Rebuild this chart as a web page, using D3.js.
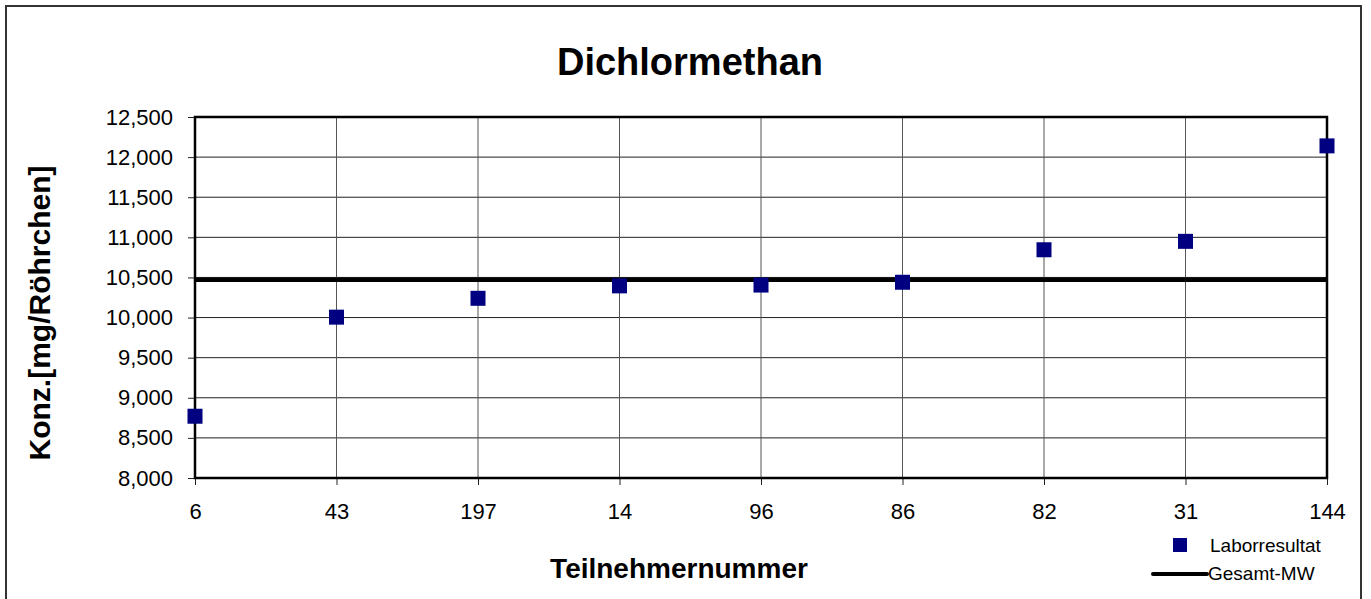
<!DOCTYPE html>
<html>
<head>
<meta charset="utf-8">
<script src="https://cdn.jsdelivr.net/npm/d3@7"></script>
<style>
  body { margin: 0; background: #fff; }
  text { font-family: "Liberation Sans", Arial, sans-serif; }
</style>
</head>
<body>
<svg id="chart" width="1371" height="599"></svg>
<script>
// data
const participants = ["6", "43", "197", "14", "96", "86", "82", "31", "144"];
const labResults = [8770, 10005, 10240, 10395, 10405, 10440, 10845, 10950, 12140];
const overallMean = 10470;
const yTicks = [8000, 8500, 9000, 9500, 10000, 10500, 11000, 11500, 12000, 12500];

const margin = {top: 117, right: 44, bottom: 121, left: 195};
const width = 1371 - margin.left - margin.right;
const height = 599 - margin.top - margin.bottom;

const svg = d3.select("#chart");

// outer frame
svg.append("rect")
  .attr("x", 6).attr("y", 6)
  .attr("width", 1355).attr("height", 610)
  .attr("fill", "none")
  .attr("stroke", "#333")
  .attr("stroke-width", 2);

const g = svg.append("g")
  .attr("transform", "translate(" + margin.left + "," + margin.top + ")");

const x = d3.scalePoint()
  .domain(participants)
  .range([0, width])
  .padding(0);

const y = d3.scaleLinear()
  .domain([8000, 12500])
  .range([height, 0]);

// grid
g.selectAll("line.hgrid")
  .data(yTicks)
  .enter()
  .append("line")
  .attr("x1", 0).attr("x2", width)
  .attr("y1", d => y(d)).attr("y2", d => y(d))
  .attr("stroke", "#222")
  .attr("stroke-width", 1);

g.selectAll("line.vgrid")
  .data(participants)
  .enter()
  .append("line")
  .attr("x1", d => x(d)).attr("x2", d => x(d))
  .attr("y1", 0).attr("y2", height)
  .attr("stroke", "#555")
  .attr("stroke-width", 1);

// axes
const yAxis = g.append("g")
  .call(d3.axisLeft(y).tickValues(yTicks).tickSize(7).tickFormat(d3.format(",")));
const xAxis = g.append("g")
  .attr("transform", "translate(0," + height + ")")
  .call(d3.axisBottom(x).tickSize(7).tickPadding(16));

[yAxis, xAxis].forEach(a => {
  a.select(".domain").remove();
  a.selectAll("line").attr("stroke", "#222");
  a.selectAll("text")
    .attr("font-family", "Liberation Sans, Arial, sans-serif")
    .attr("font-size", 22)
    .attr("fill", "#000");
});
yAxis.selectAll("text").attr("x", -22);
xAxis.selectAll("text").attr("y", 25);

// plot frame
g.append("rect")
  .attr("width", width).attr("height", height)
  .attr("fill", "none")
  .attr("stroke", "#000")
  .attr("stroke-width", 2.5);

// overall mean
g.append("line")
  .attr("x1", 0).attr("x2", width)
  .attr("y1", y(overallMean)).attr("y2", y(overallMean))
  .attr("stroke", "#000")
  .attr("stroke-width", 4.5);

// lab results
const size = 15;
g.selectAll("rect.pt")
  .data(labResults)
  .enter()
  .append("rect")
  .attr("class", "pt")
  .attr("x", (d, i) => x(participants[i]) - size / 2)
  .attr("y", d => y(d) - size / 2)
  .attr("width", size).attr("height", size)
  .attr("fill", "#000080");

// title + axis labels
svg.append("text")
  .attr("x", 690).attr("y", 75)
  .attr("text-anchor", "middle")
  .attr("font-size", 38)
  .attr("font-weight", "bold")
  .text("Dichlormethan");

svg.append("text")
  .attr("x", 679).attr("y", 578)
  .attr("text-anchor", "middle")
  .attr("font-size", 28)
  .attr("font-weight", "bold")
  .text("Teilnehmernummer");

svg.append("text")
  .attr("transform", "translate(50,313) rotate(-90)")
  .attr("text-anchor", "middle")
  .attr("font-size", 30)
  .attr("font-weight", "bold")
  .text("Konz.[mg/Röhrchen]");

// legend
const lg = svg.append("g");
lg.append("rect")
  .attr("x", 1173).attr("y", 538)
  .attr("width", 14).attr("height", 14)
  .attr("fill", "#000080");
lg.append("text")
  .attr("x", 1210).attr("y", 552)
  .attr("font-size", 19)
  .text("Laborresultat");
lg.append("line")
  .attr("x1", 1153).attr("x2", 1207)
  .attr("y1", 574).attr("y2", 574)
  .attr("stroke", "#000")
  .attr("stroke-width", 4)
  .attr("stroke-linecap", "round");
lg.append("text")
  .attr("x", 1208).attr("y", 580)
  .attr("font-size", 19)
  .text("Gesamt-MW");
</script>
</body>
</html>
